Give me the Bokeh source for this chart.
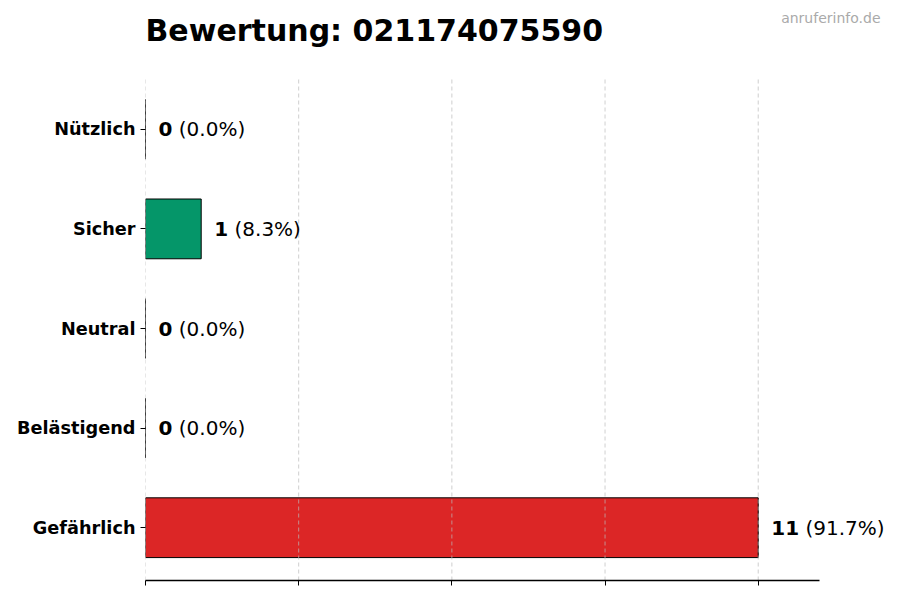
from bokeh.plotting import figure
from bokeh.models import ColumnDataSource, Range1d, FixedTicker, LabelSet, Label
from bokeh.core.properties import value
from bokeh.embed import file_html
from bokeh.resources import INLINE

# data (top to bottom as shown)
categories = ["Nützlich", "Sicher", "Neutral", "Belästigend", "Gefährlich"]
counts = [0, 1, 0, 0, 11]
bar_colors = ["#16a34a", "#059669", "#6b7280", "#f59e0b", "#dc2626"]
number = "021174075590"

total = sum(counts)
positions = [len(categories) - 1 - i for i in range(len(categories))]
pct_text = ["(%.1f%%)" % (c * 100.0 / total) for c in counts]
count_text = [str(c) for c in counts]
# bold digits are ~13.9px wide at 20px, then a space
pct_offset = [13 + 13.9 * len(t) + 6.4 for t in count_text]

source = ColumnDataSource(dict(
    y=positions, right=counts, color=bar_colors,
    count_text=count_text, pct_text=pct_text, pct_offset=pct_offset,
))

axis_end = max(counts) * 1.1
y_lo = -0.53
y_hi = len(categories) - 1 + 0.53
# the frame covers the whole canvas to the right and top, so the value
# labels and the header texts are not clipped; axis and grid stop earlier
x_end = axis_end * 755 / 674
y_top = y_lo + (y_hi - y_lo) * 580 / 504
p = figure(width=900, height=600, output_backend="svg", toolbar_location=None,
           title=None,
           x_range=Range1d(0, x_end), y_range=Range1d(y_lo, y_top),
           min_border_left=145, min_border_right=0, min_border_top=0,
           min_border_bottom=20)
p.outline_line_color = None
p.background_fill_color = "white"

p.hbar(y="y", left=0, right="right", height=0.6, source=source,
       fill_color="color", line_color="black", line_width=1)

# vertical grid, drawn over the bars
xticks = [max(counts) * k / 4 for k in range(5)]
p.segment(x0=xticks, x1=xticks, y0=[y_lo] * len(xticks), y1=[y_hi] * len(xticks),
          line_color="#bbbbbb", line_alpha=0.7, line_width=1, line_dash="4 3")

p.add_layout(LabelSet(x="right", y="y", text="count_text", source=source,
                      x_offset=13, text_font=value("DejaVu Sans"),
                      text_font_style="bold", text_font_size="20px",
                      text_baseline="middle", text_color="black"))
p.add_layout(LabelSet(x="right", y="y", text="pct_text", source=source,
                      x_offset="pct_offset", text_font=value("DejaVu Sans"),
                      text_font_size="20px",
                      text_baseline="middle", text_color="black"))

# x axis: ticks only, no labels
p.xaxis.ticker = FixedTicker(ticks=xticks)
p.xaxis.bounds = (0, axis_end)
p.xaxis.major_label_overrides = {t: "" for t in xticks}
p.xaxis.major_label_text_font_size = "1px"
p.xaxis.axis_line_color = "black"
p.xaxis.axis_line_width = 1.3
p.xaxis.major_tick_in = 0
p.xaxis.major_tick_out = 5
p.xaxis.minor_tick_line_color = None

# y axis: category names
p.yaxis.ticker = FixedTicker(ticks=positions)
p.yaxis.major_label_overrides = {pos: name for pos, name in zip(positions, categories)}
p.yaxis.axis_line_color = None
p.yaxis.major_tick_in = 0
p.yaxis.major_tick_out = 5
p.yaxis.minor_tick_line_color = None
p.yaxis.major_label_standoff = 5
p.yaxis.major_label_text_font = "DejaVu Sans"
p.yaxis.major_label_text_font_style = "bold"
p.yaxis.major_label_text_font_size = "17.7px"
p.yaxis.major_label_text_color = "black"

p.xgrid.grid_line_color = None
p.ygrid.grid_line_color = None

# header texts, screen units from the frame's bottom-left corner
p.add_layout(Label(x=0, y=550, x_units="screen", y_units="screen",
                   text="Bewertung: " + number, text_font="DejaVu Sans",
                   text_font_style="bold", text_font_size="30px",
                   text_baseline="alphabetic", text_color="black"))
p.add_layout(Label(x=735, y=563, x_units="screen", y_units="screen",
                   text="anruferinfo.de", text_font="DejaVu Sans",
                   text_font_size="14px", text_align="right",
                   text_baseline="alphabetic", text_color="#aaaaaa"))

open("out.html", "w").write(file_html(p, INLINE))
